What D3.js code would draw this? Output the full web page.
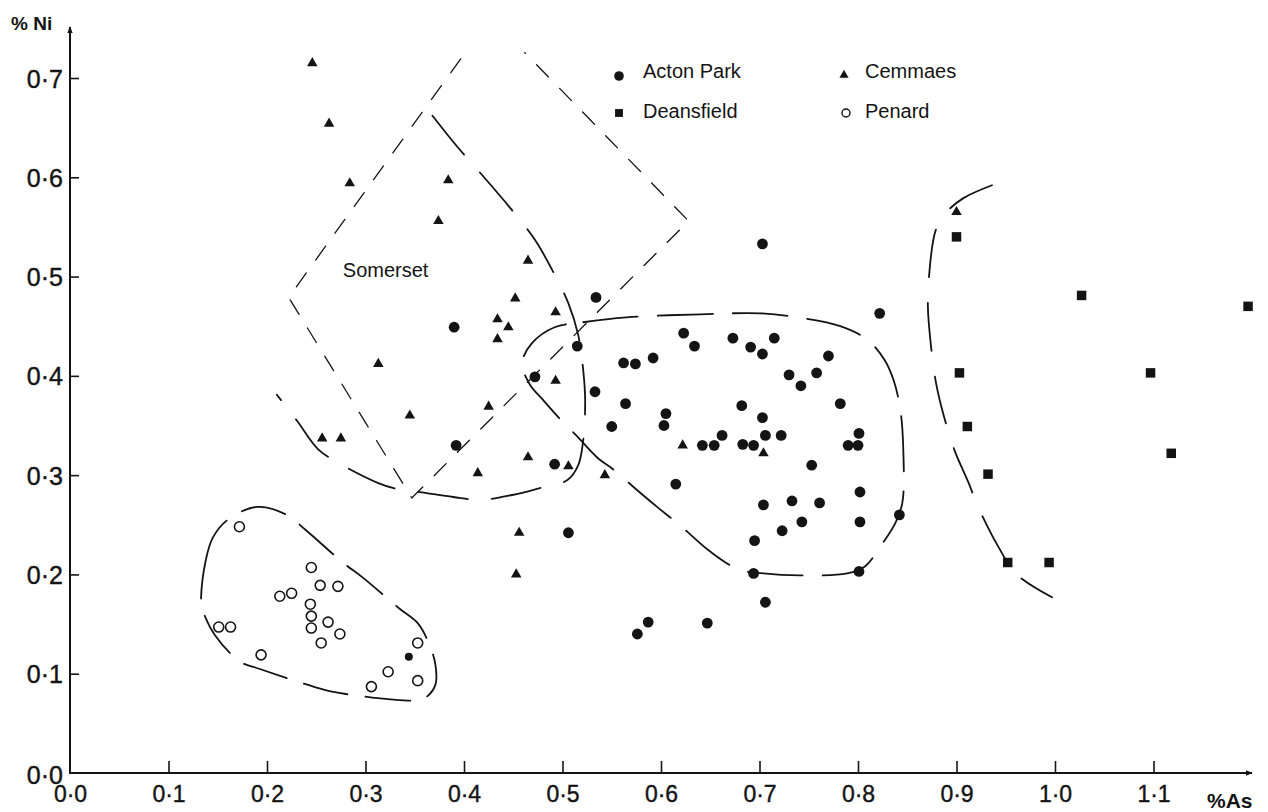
<!DOCTYPE html>
<html>
<head>
<meta charset="utf-8">
<script src="https://cdn.jsdelivr.net/npm/d3@7"></script>
<style>
  html, body { margin: 0; padding: 0; background: #fff; }
  svg { display: block; font-family: "Liberation Sans", Arial, Helvetica, sans-serif; }
</style>
</head>
<body>
<svg id="chart" width="1268" height="812"></svg>
<script>
// values, [%As, %Ni]
const actonPark = [
  [0.534, 0.479], [0.822, 0.463], [0.515, 0.430], [0.623, 0.443], [0.634, 0.430],
  [0.673, 0.438], [0.691, 0.429], [0.703, 0.422], [0.715, 0.438], [0.770, 0.420],
  [0.562, 0.413], [0.574, 0.412], [0.592, 0.418], [0.730, 0.401], [0.758, 0.403],
  [0.742, 0.390], [0.533, 0.384], [0.564, 0.372], [0.782, 0.372], [0.682, 0.370],
  [0.605, 0.362], [0.603, 0.350], [0.550, 0.349], [0.703, 0.358], [0.662, 0.340],
  [0.706, 0.340], [0.722, 0.340], [0.801, 0.342], [0.642, 0.330], [0.654, 0.330],
  [0.683, 0.331], [0.694, 0.330], [0.790, 0.330], [0.800, 0.330], [0.492, 0.311],
  [0.753, 0.310], [0.615, 0.291], [0.802, 0.283], [0.704, 0.270], [0.733, 0.274],
  [0.761, 0.272], [0.842, 0.260], [0.743, 0.253], [0.802, 0.253], [0.723, 0.244],
  [0.506, 0.242], [0.695, 0.234], [0.694, 0.201], [0.801, 0.203], [0.706, 0.172],
  [0.587, 0.152], [0.647, 0.151], [0.576, 0.140], [0.472, 0.399], [0.390, 0.449],
  [0.392, 0.330], [0.703, 0.533]
];
// the small filled dot inside the Penard field
const actonSmall = [[0.344, 0.117]];

const cemmaes = [
  [0.246, 0.715], [0.263, 0.654], [0.284, 0.594], [0.384, 0.597], [0.374, 0.556],
  [0.465, 0.516], [0.452, 0.478], [0.493, 0.464], [0.434, 0.457], [0.445, 0.449],
  [0.434, 0.437], [0.493, 0.395], [0.313, 0.412], [0.345, 0.360], [0.425, 0.369],
  [0.256, 0.337], [0.275, 0.337], [0.465, 0.318], [0.414, 0.302], [0.506, 0.309],
  [0.543, 0.300], [0.456, 0.242], [0.453, 0.200], [0.622, 0.330], [0.704, 0.322],
  [0.900, 0.565]
];

const deansfield = [
  [0.900, 0.540], [1.027, 0.481], [1.196, 0.470], [0.903, 0.403], [1.097, 0.403],
  [0.911, 0.349], [1.118, 0.322], [0.932, 0.301], [0.952, 0.212], [0.994, 0.212]
];

const penard = [
  [0.172, 0.248], [0.245, 0.207], [0.254, 0.189], [0.272, 0.188], [0.213, 0.178],
  [0.225, 0.181], [0.244, 0.170], [0.245, 0.158], [0.262, 0.152], [0.245, 0.146],
  [0.274, 0.140], [0.255, 0.131], [0.151, 0.147], [0.163, 0.147], [0.194, 0.119],
  [0.353, 0.131], [0.323, 0.102], [0.306, 0.087], [0.353, 0.093]
];

// hand-drawn field boundaries
const somersetField = [[0.427, 0.761], [0.628, 0.556], [0.347, 0.277], [0.222, 0.479]];

const cemmaesField = [
  [0.368, 0.662], [0.393, 0.631], [0.416, 0.605], [0.447, 0.569], [0.472, 0.537],
  [0.492, 0.502], [0.506, 0.473], [0.516, 0.441], [0.521, 0.406], [0.523, 0.376],
  [0.521, 0.335], [0.516, 0.310], [0.505, 0.295], [0.477, 0.287], [0.449, 0.280],
  [0.416, 0.275], [0.389, 0.278], [0.355, 0.283], [0.332, 0.286], [0.313, 0.292],
  [0.273, 0.312], [0.252, 0.326], [0.231, 0.354], [0.210, 0.381]
];

const actonField = [
  [0.492, 0.449], [0.521, 0.454], [0.565, 0.459], [0.640, 0.462], [0.701, 0.463],
  [0.738, 0.459], [0.782, 0.450], [0.810, 0.436], [0.827, 0.416], [0.836, 0.396],
  [0.843, 0.366], [0.846, 0.325], [0.845, 0.272], [0.838, 0.252], [0.824, 0.230],
  [0.807, 0.208], [0.789, 0.201], [0.741, 0.199], [0.704, 0.201], [0.679, 0.205],
  [0.650, 0.223], [0.621, 0.248], [0.596, 0.268], [0.578, 0.283], [0.550, 0.307],
  [0.536, 0.317], [0.513, 0.341], [0.497, 0.357], [0.480, 0.376], [0.467, 0.391],
  [0.459, 0.413], [0.469, 0.433]
];

const deansfieldField = [
  [0.936, 0.592], [0.907, 0.579], [0.890, 0.565], [0.879, 0.547], [0.872, 0.499],
  [0.871, 0.468], [0.874, 0.431], [0.879, 0.394], [0.887, 0.360], [0.898, 0.325],
  [0.912, 0.293], [0.922, 0.268], [0.943, 0.227], [0.961, 0.200], [0.997, 0.177]
];

const penardField = [
  [0.133, 0.174], [0.138, 0.215], [0.145, 0.237], [0.160, 0.255], [0.190, 0.268],
  [0.220, 0.260], [0.239, 0.245], [0.277, 0.212], [0.297, 0.197], [0.334, 0.166],
  [0.353, 0.151], [0.365, 0.129], [0.371, 0.109], [0.371, 0.089], [0.361, 0.076],
  [0.347, 0.073], [0.307, 0.076], [0.266, 0.082], [0.247, 0.087], [0.192, 0.105],
  [0.173, 0.112], [0.147, 0.139], [0.134, 0.166]
];

const xTicks = [0, 0.1, 0.2, 0.3, 0.4, 0.5, 0.6, 0.7, 0.8, 0.9, 1.0, 1.1];
const yTicks = [0, 0.1, 0.2, 0.3, 0.4, 0.5, 0.6, 0.7];
const legendLeft = ['Acton Park', 'Deansfield'];
const legendRight = ['Cemmaes', 'Penard'];

const ink = '#141414';
const svg = d3.select('#chart');

const x = d3.scaleLinear().domain([0, 1.1]).range([70, 1153.5]);
const y = d3.scaleLinear().domain([0, 0.7]).range([773, 78]);

const fmt = d => d3.format('.1f')(d).replace('.', '\u00b7');

// arrow heads
const defs = svg.append('defs');
defs.append('marker')
  .attr('id', 'arrow')
  .attr('viewBox', '0 0 10 10')
  .attr('refX', 9)
  .attr('refY', 5)
  .attr('markerWidth', 7)
  .attr('markerHeight', 7)
  .attr('markerUnits', 'userSpaceOnUse')
  .attr('orient', 'auto')
  .append('path')
  .attr('d', 'M0,1 L10,5 L0,9 Z')
  .attr('fill', ink);

// the Somerset lines stop at the top of the drawing
defs.append('clipPath')
  .attr('id', 'plot-clip')
  .append('rect')
  .attr('x', 0)
  .attr('y', y(0.726))
  .attr('width', 1268)
  .attr('height', 812);

// AXES
const xAxis = svg.append('g')
  .attr('transform', `translate(0,${y(0)})`)
  .call(d3.axisBottom(x)
    .tickValues(xTicks)
    .tickSizeInner(-12)
    .tickSizeOuter(0)
    .tickPadding(13)
    .tickFormat(fmt));

const yAxis = svg.append('g')
  .attr('transform', `translate(${x(0)},0)`)
  .call(d3.axisLeft(y)
    .tickValues(yTicks)
    .tickSizeInner(-9)
    .tickSizeOuter(0)
    .tickPadding(7)
    .tickFormat(fmt));

[xAxis, yAxis].forEach(function (g) {
  g.select('.domain').remove();
  g.selectAll('.tick')
    .filter(d => d === 0)
    .select('line')
    .remove();
  g.selectAll('.tick line')
    .attr('stroke', ink)
    .attr('stroke-width', 1.6);
  g.selectAll('.tick text')
    .attr('fill', ink)
    .attr('stroke', ink)
    .attr('stroke-width', 0.4);
});
xAxis.selectAll('.tick text').attr('font-size', 23);
yAxis.selectAll('.tick text').attr('font-size', 25).attr('dy', '0.36em');
yAxis.selectAll('.tick')
  .filter(d => d === 0)
  .select('text')
  .attr('dy', '0.42em');

svg.append('line')
  .attr('x1', x(0) - 1)
  .attr('y1', y(0))
  .attr('x2', 1252)
  .attr('y2', y(0))
  .attr('stroke', ink)
  .attr('stroke-width', 2)
  .attr('marker-end', 'url(#arrow)');

svg.append('line')
  .attr('x1', x(0))
  .attr('y1', y(0) + 1)
  .attr('x2', x(0))
  .attr('y2', 27)
  .attr('stroke', ink)
  .attr('stroke-width', 2)
  .attr('marker-end', 'url(#arrow)');

svg.append('text')
  .attr('x', 1207)
  .attr('y', 808)
  .attr('font-size', 21)
  .attr('font-weight', 'bold')
  .attr('fill', ink)
  .text('%As');

svg.append('text')
  .attr('x', 11)
  .attr('y', 30)
  .attr('font-size', 19)
  .attr('font-weight', 'bold')
  .attr('fill', ink)
  .text('% Ni');

// FIELD BOUNDARIES
const lineOpen = d3.line()
  .x(d => x(d[0]))
  .y(d => y(d[1]))
  .curve(d3.curveCatmullRom.alpha(0.5));

const lineClosed = d3.line()
  .x(d => x(d[0]))
  .y(d => y(d[1]))
  .curve(d3.curveCatmullRomClosed.alpha(0.5));

const fields = svg.append('g')
  .attr('fill', 'none')
  .attr('stroke', ink)
  .attr('stroke-linecap', 'round');

fields.append('path')
  .attr('d', d3.line().x(d => x(d[0])).y(d => y(d[1])).curve(d3.curveLinearClosed)(somersetField))
  .attr('clip-path', 'url(#plot-clip)')
  .attr('stroke-width', 1.3)
  .attr('stroke-dasharray', '17,16');

fields.append('path')
  .attr('d', lineOpen(cemmaesField))
  .attr('stroke-width', 1.8)
  .attr('stroke-dasharray', '50,24');

fields.append('path')
  .attr('d', lineClosed(actonField))
  .attr('stroke-width', 1.8)
  .attr('stroke-dasharray', '55,20');

fields.append('path')
  .attr('d', lineOpen(deansfieldField))
  .attr('stroke-width', 1.8)
  .attr('stroke-dasharray', '48,26');

fields.append('path')
  .attr('d', lineClosed(penardField))
  .attr('stroke-width', 1.8)
  .attr('stroke-dasharray', '45,18');

svg.append('text')
  .attr('x', x(0.277))
  .attr('y', y(0.5))
  .attr('font-size', 20)
  .attr('fill', ink)
  .text('Somerset');

// POINTS
const points = svg.append('g');

points.selectAll('circle.acton')
  .data(actonPark)
  .join('circle')
  .attr('class', 'acton')
  .attr('cx', d => x(d[0]))
  .attr('cy', d => y(d[1]))
  .attr('r', 5.4)
  .attr('fill', ink);

points.selectAll('circle.acton-small')
  .data(actonSmall)
  .join('circle')
  .attr('class', 'acton-small')
  .attr('cx', d => x(d[0]))
  .attr('cy', d => y(d[1]))
  .attr('r', 4)
  .attr('fill', ink);

points.selectAll('circle.penard')
  .data(penard)
  .join('circle')
  .attr('class', 'penard')
  .attr('cx', d => x(d[0]))
  .attr('cy', d => y(d[1]))
  .attr('r', 5)
  .attr('fill', '#fff')
  .attr('stroke', ink)
  .attr('stroke-width', 1.6);

points.selectAll('path.cemmaes')
  .data(cemmaes)
  .join('path')
  .attr('class', 'cemmaes')
  .attr('d', d3.symbol(d3.symbolTriangle, 48))
  .attr('transform', d => `translate(${x(d[0])},${y(d[1])})`)
  .attr('fill', ink);

points.selectAll('path.deansfield')
  .data(deansfield)
  .join('path')
  .attr('class', 'deansfield')
  .attr('d', d3.symbol(d3.symbolSquare, 90))
  .attr('transform', d => `translate(${x(d[0])},${y(d[1])})`)
  .attr('fill', ink);

// LEGEND
const legend = svg.append('g')
  .attr('font-size', 20)
  .attr('fill', ink);

legend.append('circle').attr('cx', 619).attr('cy', 76).attr('r', 4.8).attr('fill', ink);
legend.append('path')
  .attr('d', d3.symbol(d3.symbolSquare, 62))
  .attr('transform', 'translate(619,113)')
  .attr('fill', ink);
legend.append('path')
  .attr('d', d3.symbol(d3.symbolTriangle, 36))
  .attr('transform', 'translate(844,75)')
  .attr('fill', ink);
legend.append('circle')
  .attr('cx', 846).attr('cy', 113).attr('r', 4)
  .attr('fill', '#fff').attr('stroke', ink).attr('stroke-width', 1.4);

legend.selectAll('text.left')
  .data(legendLeft)
  .join('text')
  .attr('class', 'left')
  .attr('x', 643)
  .attr('y', (d, i) => 78 + i * 40)
  .text(d => d);

legend.selectAll('text.right')
  .data(legendRight)
  .join('text')
  .attr('class', 'right')
  .attr('x', 865)
  .attr('y', (d, i) => 78 + i * 40)
  .text(d => d);
</script>
</body>
</html>
